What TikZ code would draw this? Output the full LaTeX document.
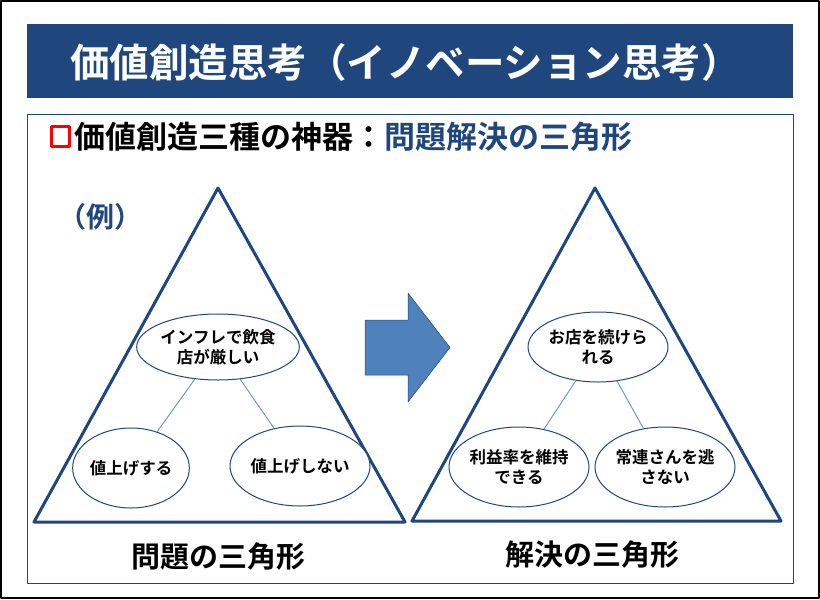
\documentclass[tikz,border=0pt]{standalone}
\usepackage{fontspec}
\setmainfont{Noto Sans CJK JP}[BoldFont={Noto Sans CJK JP Bold}]
\usetikzlibrary{shapes.geometric}
\definecolor{navy}{rgb}{0.12,0.28,0.49}
\definecolor{arrowblue}{rgb}{0.31,0.51,0.74}
\definecolor{linkblue}{rgb}{0.45,0.60,0.80}

\begin{document}
\begin{tikzpicture}[x=1pt,y=-1pt,line join=round,
    idea/.style={draw=navy,line width=1pt,fill=white,ellipse,inner sep=0pt,align=center,font=\bfseries\fontsize{16.5}{20}\selectfont},
    tri/.style={draw=navy,line width=3pt},
    link/.style={draw=linkblue,line width=1pt}]
        \useasboundingbox (0,0) rectangle (820,600);
        \draw[black,line width=1.5pt] (1,1) rectangle (819,598);
        \fill[navy] (27,24) rectangle (793,98);
        \node[white,font=\bfseries\fontsize{39.5}{44}\selectfont,anchor=west,inner sep=0pt] (title) at (70,62) {価値創造思考（イノベーション思考）};
        \draw[navy,line width=1pt] (27,114) rectangle (793,583);
        \draw[red,line width=3pt] (51,126) rectangle (69,146);
        \node[font=\bfseries\fontsize{31}{34}\selectfont,anchor=west,inner sep=0pt] (sub) at (74,137) {価値創造三種の神器：\textcolor{navy}{問題解決の三角形}};
        \node[navy,font=\bfseries\fontsize{28}{32}\selectfont] (ex) at (100,217) {（例）};
        % triangles
        \draw[tri] (218,188) -- (405,522) -- (34,522) -- cycle;
        \draw[tri] (595,188) -- (781,521) -- (412,521) -- cycle;
        % problem
        \node[idea,minimum width=132pt,minimum height=66pt] (p1) at (218,347) {インフレで飲食\\店が厳しい};
        \node[idea,minimum width=110pt,minimum height=80pt] (p2) at (131,468) {値上げする};
        \node[idea,minimum width=112pt,minimum height=80pt] (p3) at (300,466) {値上げしない};
        \draw[link] (p1) -- (p2);
        \draw[link] (p1) -- (p3);
        % solution
        \node[idea,minimum width=140pt,minimum height=70pt] (s1) at (598,347) {お店を続けら\\れる};
        \node[idea,minimum width=134pt,minimum height=80pt] (s2) at (519,467) {利益率を維持\\できる};
        \node[idea,minimum width=134pt,minimum height=80pt] (s3) at (665,467) {常連さんを逃\\さない};
        \draw[link] (s1) -- (s2);
        \draw[link] (s1) -- (s3);
        % block arrow
        \filldraw[fill=arrowblue,draw=navy,line width=0.5pt] (365,320) -- (408,320) -- (408,293) -- (450,347.5) -- (408,402) -- (408,375) -- (365,375) -- cycle;
        \node[font=\bfseries\fontsize{29}{32}\selectfont] (pl) at (218,557) {問題の三角形};
        \node[font=\bfseries\fontsize{29}{32}\selectfont] (sl) at (592,555) {解決の三角形};
\end{tikzpicture}
\end{document}
